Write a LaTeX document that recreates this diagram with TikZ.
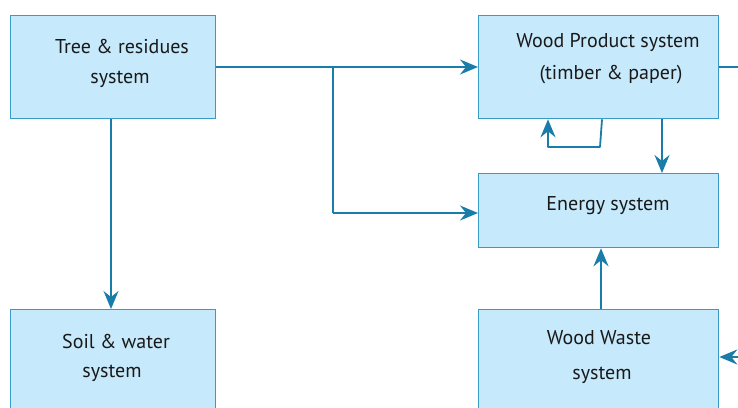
\documentclass[tikz,border=0pt]{standalone}
\usepackage{fontspec}
\setmainfont{PT Sans}
\usetikzlibrary{arrows.meta,calc}
\definecolor{boxfill}{HTML}{C6E9FB}
\definecolor{boxline}{HTML}{3A9CC6}
\definecolor{arr}{HTML}{1A7CA8}
\tikzset{
  sysbox/.style={draw=boxline, fill=boxfill, line width=1.3pt, inner sep=0pt, anchor=north west},
  lbl/.style={font=\fontsize{20}{24}\selectfont, inner sep=0pt, text=black!90},
  flow/.style={draw=arr, line width=1.8pt, -{Stealth[length=18pt,width=15pt,inset=6pt]}},
  flowline/.style={draw=arr, line width=1.8pt}
}
\begin{document}
\begin{tikzpicture}[x=1pt,y=-1pt]
\useasboundingbox (0,0) rectangle (738,407);
\clip (0,0) rectangle (738,407);
\node[sysbox, minimum width=205pt, minimum height=103pt] (tree) at (10,15) {};
\node[sysbox, minimum width=240pt, minimum height=103pt] (wp) at (478,15) {};
\node[sysbox, minimum width=240pt, minimum height=74pt] (en) at (478,173) {};
\node[sysbox, minimum width=205pt, minimum height=110pt] (soil) at (10,309) {};
\node[sysbox, minimum width=240pt, minimum height=110pt] (ww) at (478,309) {};
\node[lbl] (t1) at (122,46) {Tree \& residues};
\node[lbl] (t2) at (120,79) {system};
\node[lbl] (w1) at (608,42) {Wood Product system};
\node[lbl] (w2) at (611,75) {(timber \& paper)};
\node[lbl] (e1) at (608,206) {Energy system};
\node[lbl] (s1) at (116,341) {Soil \& water};
\node[lbl] (s2) at (112,373) {system};
\node[lbl] (ww1) at (599,338) {Wood Waste};
\node[lbl] (ww2) at (602,375) {system};
\coordinate (br) at (333,67);
\coordinate (br2) at (333,213);
\coordinate (wpout) at (739,67);
\coordinate (wwin) at (739,357);
\coordinate (l1) at (600,147);
\coordinate (l2) at (548,147);
\draw[flow] (tree.east |- br) -- (wp.west |- br);
\draw[flowline] (br) -- (br2);
\draw[flow] (br2) -- (en.west |- br2);
\draw[flow] ($(tree.south west)+(101,0)$) -- ($(soil.north west)+(101,0)$);
\draw[flowline] (wp.east |- wpout) -- (wpout);
\draw[flow] (wwin) -- (ww.east |- wwin);
\draw[flow] ($(wp.south west)+(184,0)$) -- ($(en.north west)+(184,0)$);
\draw[flow, line join=round] ($(wp.south west)+(124,0)$) -- (l1) -- (l2) -- (l2 |- wp.south);
\draw[flow] ($(ww.north west)+(123,0)$) -- ($(en.south west)+(123,0)$);
\end{tikzpicture}
\end{document}
